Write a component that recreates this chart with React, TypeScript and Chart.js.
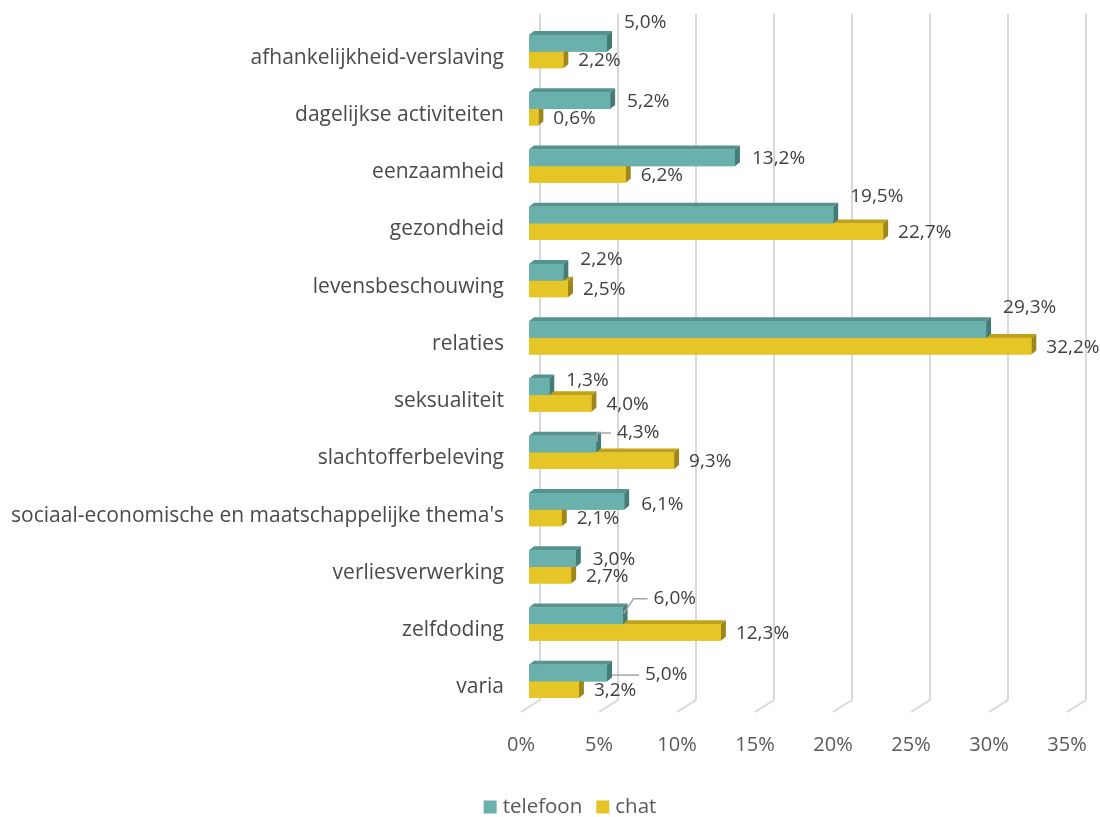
import React, { useEffect, useRef } from 'react';
import { Chart, registerables } from 'chart.js';

Chart.register(...registerables);

const categories = [
  'afhankelijkheid-verslaving',
  'dagelijkse activiteiten',
  'eenzaamheid',
  'gezondheid',
  'levensbeschouwing',
  'relaties',
  'seksualiteit',
  'slachtofferbeleving',
  "sociaal-economische en maatschappelijke thema's",
  'verliesverwerking',
  'zelfdoding',
  'varia',
];
const telefoon = [5.0, 5.2, 13.2, 19.5, 2.2, 29.3, 1.3, 4.3, 6.1, 3.0, 6.0, 5.0];
const chat = [2.2, 0.6, 6.2, 22.7, 2.5, 32.2, 4.0, 9.3, 2.1, 2.7, 12.3, 3.2];
const seriesNames = ['telefoon', 'chat'];
const xTickValues = [0, 5, 10, 15, 20, 25, 30, 35];

// label nudges for the telefoon data labels (Excel's auto placement)
const tealLabelDy = [-21, 1, 1, -18, -13, -22, -6, -11, 3, 1, -17, 2];
const tealLabelDx = [0, 0, 0, 0, 0, 0, 0, 4, 0, 0, 14, 21];

const FONT = "'Open Sans', sans-serif";
const COLORS = [
  { front: '#6AB1AD', top: '#56938F', side: '#437B77' },
  { front: '#E6C526', top: '#BFA21C', side: '#9F861A' },
];
const DX = 5;
const DY = 4;

const fmt = (v: number) => v.toFixed(1).replace('.', ',') + '%';

const bar3d = {
  id: 'bar3d',
  beforeDatasetsDraw(chart: any) {
    const { ctx, chartArea, scales } = chart;
    const x = scales.x;
    const y = scales.y;
    ctx.save();
    ctx.strokeStyle = '#D9D9D9';
    ctx.lineWidth = 2;
    xTickValues.forEach((v) => {
      const px = x.getPixelForValue(v);
      ctx.beginPath();
      ctx.moveTo(px + 11, chartArea.top - 9);
      ctx.lineTo(px + 11, chartArea.bottom - 10);
      ctx.lineTo(px - 8, chartArea.bottom + 2);
      ctx.stroke();
    });
    ctx.fillStyle = '#595959';
    ctx.font = `20px ${FONT}`;
    ctx.textAlign = 'center';
    ctx.textBaseline = 'middle';
    xTickValues.forEach((v) => {
      const px = x.getPixelForValue(v);
      ctx.fillText(`${v}%`, px - 8, chartArea.bottom + 35);
    });
    // category labels
    ctx.fillStyle = '#4A4A4A';
    ctx.font = `21px ${FONT}`;
    ctx.textAlign = 'right';
    categories.forEach((c, i) => {
      const py = y.getPixelForValue(i);
      ctx.fillText(c, chartArea.left - 25, py + 6);
    });
    ctx.restore();
  },
  afterDatasetsDraw(chart: any) {
    const { ctx } = chart;
    ctx.save();
    [1, 0].forEach((di) => {
      const meta = chart.getDatasetMeta(di);
      const c = COLORS[di];
      meta.data.forEach((el: any) => {
        const h = el.height;
        const top = el.y - h / 2;
        const bottom = el.y + h / 2;
        const base = el.base;
        const end = el.x;
        ctx.fillStyle = c.top;
        ctx.beginPath();
        ctx.moveTo(base, top);
        ctx.lineTo(base + DX, top - DY);
        ctx.lineTo(end + DX, top - DY);
        ctx.lineTo(end, top);
        ctx.closePath();
        ctx.fill();
        ctx.fillStyle = c.side;
        ctx.beginPath();
        ctx.moveTo(end, top);
        ctx.lineTo(end + DX, top - DY);
        ctx.lineTo(end + DX, bottom - DY);
        ctx.lineTo(end, bottom);
        ctx.closePath();
        ctx.fill();
        ctx.fillStyle = c.front;
        ctx.fillRect(base, top, end - base, h);
      });
    });

    // data labels
    ctx.font = `19px ${FONT}`;
    ctx.fillStyle = '#404040';
    ctx.textAlign = 'left';
    ctx.textBaseline = 'middle';
    const chatMeta = chart.getDatasetMeta(1);
    chatMeta.data.forEach((el: any, i: number) => {
      ctx.fillText(fmt(chat[i]), el.x + 15, el.y + 1);
    });
    const telMeta = chart.getDatasetMeta(0);
    telMeta.data.forEach((el: any, i: number) => {
      const lx = el.x + 17 + tealLabelDx[i];
      const ly = el.y + tealLabelDy[i];
      ctx.fillStyle = '#404040';
      ctx.fillText(fmt(telefoon[i]), lx, ly);
      if (tealLabelDx[i] > 0) {
        ctx.strokeStyle = '#A6A6A6';
        ctx.lineWidth = 1.5;
        ctx.beginPath();
        const top = el.y - el.height / 2;
        if (ly < top) {
          const k = Math.max(0, tealLabelDx[i] - 4);
          ctx.moveTo(el.x + 1, top + 6);
          ctx.lineTo(el.x + 1 + k, ly);
          ctx.lineTo(lx - 6, ly);
        } else {
          ctx.moveTo(el.x + DX, ly);
          ctx.lineTo(lx - 6, ly);
        }
        ctx.stroke();
      }
    });

    // legend
    const items = seriesNames.map((n, i) => ({ n, c: COLORS[i].front }));
    ctx.font = `20.5px ${FONT}`;
    const box = 13;
    const gap = 6;
    const spacing = 14;
    const widths = items.map((it) => box + gap + ctx.measureText(it.n).width);
    const total = widths.reduce((a, b) => a + b, 0) + spacing * (items.length - 1);
    let cx = 570 - total / 2;
    const ly = 807;
    items.forEach((it, i) => {
      ctx.fillStyle = it.c;
      ctx.fillRect(cx, ly - box / 2, box, box);
      ctx.fillStyle = '#595959';
      ctx.fillText(it.n, cx + box + gap, ly);
      cx += widths[i] + spacing;
    });
    ctx.restore();
  },
};

export default function App() {
  const ref = useRef<HTMLCanvasElement | null>(null);
  useEffect(() => {
    if (!ref.current) return;
    const chart = new Chart(ref.current, {
      type: 'bar',
      data: {
        labels: categories,
        datasets: [
          { label: seriesNames[0], data: telefoon, backgroundColor: COLORS[0].front },
          { label: seriesNames[1], data: chat, backgroundColor: COLORS[1].front },
        ],
      },
      options: {
        indexAxis: 'y',
        responsive: false,
        animation: false,
        categoryPercentage: 0.58,
        barPercentage: 1,
        layout: { padding: { left: 0, right: 25, top: 23, bottom: 107 } },
        plugins: {
          legend: { display: false },
          tooltip: { enabled: false },
        },
        scales: {
          x: {
            display: false,
            min: 0,
            max: 35,
            ticks: { stepSize: 5 },
          },
          y: {
            grid: { display: false, drawTicks: false },
            border: { display: false },
            ticks: { display: false },
            afterFit: (s: any) => {
              s.width = 529;
              s.paddingTop = 0;
              s.paddingBottom = 0;
            },
          },
        },
      },
      plugins: [bar3d],
    });
    return () => chart.destroy();
  }, []);
  return (
    <div style={{ position: 'absolute', left: 0, top: 0, width: 1100, height: 817 }}>
      <canvas ref={ref} width={1100} height={817} />
    </div>
  );
}
